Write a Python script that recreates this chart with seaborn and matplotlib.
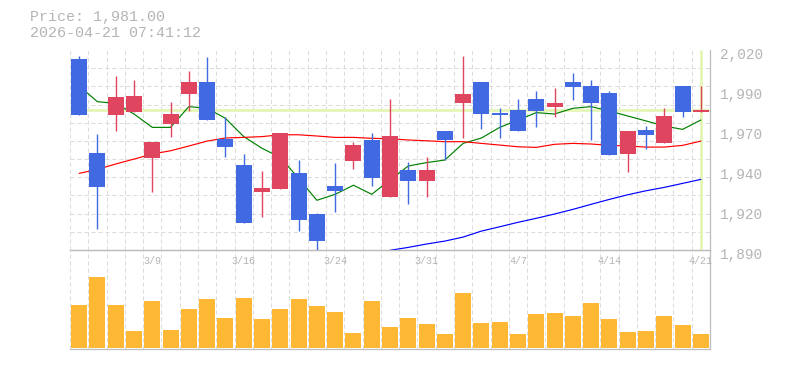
import matplotlib
matplotlib.use("Agg")
import matplotlib.pyplot as plt
from matplotlib.transforms import ScaledTranslation
import seaborn as sns
import numpy as np
import pandas as pd

# ---------------- data ----------------
dates = ["3/3", "3/4", "3/5", "3/6", "3/9", "3/10", "3/11", "3/12", "3/13",
         "3/16", "3/17", "3/18", "3/19", "3/23", "3/24", "3/25", "3/26", "3/27",
         "3/30", "3/31", "4/1", "4/2", "4/3", "4/6", "4/7", "4/8", "4/9", "4/10",
         "4/13", "4/14", "4/15", "4/16", "4/17", "4/20", "4/21"]

opens = [2014.2, 1953.0, 1978.0, 1979.9, 1950.0, 1972.1, 1991.6, 1999.2, 1962.1,
         1945.2, 1927.9, 1929.8, 1940.0, 1913.6, 1931.8, 1948.0, 1961.5, 1924.6,
         1942.0, 1935.0, 1967.3, 1985.7, 1999.2, 1979.2, 1981.0, 1988.1, 1983.0,
         1999.2, 1996.6, 1992.0, 1952.6, 1968.0, 1959.7, 1996.6, 1980.0]
highs = [2016.1, 1965.4, 2003.1, 2000.5, 1960.2, 1986.2, 2006.3, 2015.4, 1976.4,
         1952.4, 1941.3, 1966.0, 1948.5, 1914.3, 1946.5, 1960.4, 1966.0, 1988.1,
         1947.2, 1950.4, 1967.3, 2016.3, 1999.2, 1982.3, 1988.1, 1993.3, 1995.3,
         2005.0, 2000.5, 1993.3, 1967.3, 1970.6, 1982.3, 1996.6, 1996.6]
lows = [1977.9, 1903.6, 1967.6, 1979.9, 1927.9, 1963.6, 1980.5, 1974.7, 1950.6,
        1907.7, 1911.6, 1929.8, 1902.5, 1889.5, 1914.9, 1942.8, 1931.8, 1924.6,
        1920.1, 1924.6, 1948.5, 1962.8, 1968.6, 1962.8, 1967.5, 1969.9, 1976.6,
        1987.5, 1961.5, 1951.9, 1940.9, 1955.8, 1959.7, 1976.6, 1979.9]
closes = [1977.9, 1931.1, 1989.4, 1990.1, 1960.2, 1978.4, 1999.2, 1974.7, 1957.1,
          1907.7, 1930.3, 1966.0, 1909.7, 1896.0, 1928.5, 1958.2, 1937.0, 1964.1,
          1935.0, 1942.0, 1961.7, 1991.6, 1978.6, 1977.7, 1967.5, 1980.3, 1985.5,
          1995.9, 1985.7, 1951.9, 1967.3, 1964.9, 1977.1, 1979.9, 1981.0]

ma_short = [1996.6, 1986.4, 1985.3, 1978.4, 1969.7, 1969.7, 1983.2, 1982.1, 1975.6,
            1963.7, 1956.1, 1950.2, 1936.6, 1922.3, 1926.2, 1932.1, 1926.2, 1935.5,
            1944.6, 1946.8, 1948.5, 1959.3, 1962.8, 1969.7, 1974.5, 1979.3, 1978.4,
            1982.1, 1983.2, 1980.4, 1977.1, 1973.9, 1970.6, 1968.4, 1974.5]
ma_mid = [1939.8, 1942.4, 1945.9, 1949.1, 1952.4, 1954.5, 1957.6, 1960.8, 1962.8,
          1963.2, 1963.7, 1964.9, 1964.9, 1964.1, 1963.2, 1963.2, 1962.6, 1962.3,
          1961.5, 1961.0, 1960.4, 1960.4, 1959.3, 1958.2, 1957.1, 1956.7, 1958.7,
          1959.3, 1958.9, 1958.0, 1957.6, 1956.9, 1956.9, 1958.0, 1960.8]
ma_long = [None] * 17 + [1889.8, 1891.7, 1893.9, 1895.8, 1898.4, 1902.3, 1905.1,
                         1908.0, 1910.6, 1913.4, 1916.4, 1919.7, 1922.9, 1925.9,
                         1928.5, 1930.7, 1933.3, 1935.9]

volumes = [43, 71, 43, 17, 47, 18, 39, 49, 30, 50, 29, 39, 49, 42, 36, 15, 47, 21,
           30, 24, 14, 55, 25, 26, 14, 34, 35, 32, 45, 29, 16, 17, 32, 23, 14]

price_ticks = [2020, 1994, 1968, 1942, 1916, 1890]
price_tick_labels = ["2,020", "1,990", "1,970", "1,940", "1,920", "1,890"]
xlabel_dates = ["3/9", "3/16", "3/24", "3/31", "4/7", "4/14", "4/21"]
last_price = 1981.0
title_lines = ["Price: 1,981.00", "2026-04-21 07:41:12"]

# ---------------- style ----------------
sns.set_style("white")
plt.rcParams["font.family"] = ["Liberation Mono", "DejaVu Sans Mono"]

UP = "#E0455F"
DOWN = "#4169E1"
VOL = "#FFB833"
GRID = "#DCDCDC"
FRAME = "#BDBDBD"
TXT = "#B5B5B5"
HL = "#E3F5B5"

W, H = 785, 370
fig = plt.figure(figsize=(W / 100, H / 100), dpi=100)
ax = fig.add_axes([70 / W, (H - 250) / H, 640 / W, 200 / H])
axv = fig.add_axes([70 / W, (H - 349) / H, 640 / W, 99 / H])

df = pd.DataFrame({"date": dates, "open": opens, "high": highs, "low": lows,
                   "close": closes, "ma5": ma_short, "ma25": ma_mid,
                   "ma75": pd.array(ma_long, dtype="Float64").astype(float),
                   "vol": volumes})
df["i"] = np.arange(len(df))
df["top"] = df[["open", "close"]].max(axis=1)
df["bot"] = df[["open", "close"]].min(axis=1)
cols = [UP if c >= o else DOWN for o, c in zip(df["open"], df["close"])]

# highlight lines
ax.axhline(last_price, color=HL, lw=2.0, zorder=1)
ax.axvline(df["i"].iloc[-1], color=HL, lw=2.0, zorder=1, ymin=0.005, ymax=0.995)

# moving averages
sns.lineplot(data=df, x="i", y="ma5", ax=ax, color="#008000", lw=0.85, zorder=2)
sns.lineplot(data=df, x="i", y="ma25", ax=ax, color="#FF0000", lw=0.85, zorder=2)
sns.lineplot(data=df.dropna(subset=["ma75"]), x="i", y="ma75", ax=ax,
             color="#0000FF", lw=0.85, zorder=2)

# candles
ax.vlines(df["i"], df["low"], df["high"], colors=cols, lw=1.0, zorder=3)
ax.bar(df["i"], df["top"] - df["bot"], bottom=df["bot"], width=0.875,
       color=cols, zorder=4, linewidth=0)

ax.set_xlim(-0.5, len(df) - 0.5)
ax.set_ylim(1890, 2020)
ax.set_xlabel("")
ax.set_ylabel("")

# y ticks on right, rounded labels
ax.yaxis.tick_right()
ax.set_yticks(price_ticks)
ax.set_yticklabels(price_tick_labels)
ax.tick_params(axis="y", length=0, pad=7.2, labelsize=10.4, labelcolor=TXT)
for lbl in ax.get_yticklabels():
    lbl.set_transform(lbl.get_transform() + ScaledTranslation(0, -3 / 100, fig.dpi_scale_trans))
ax.set_yticks(np.linspace(1890, 2020, 12), minor=True)

# x ticks
xt = [dates.index(d) for d in xlabel_dates]
ax.set_xticks(xt)
ax.set_xticklabels(xlabel_dates)
ax.tick_params(axis="x", length=0, pad=4.5, labelsize=7.2, labelcolor=TXT)
ax.set_xticks(np.arange(-0.5, len(df), 1), minor=True)
ax.tick_params(which="minor", length=0)

ax.grid(False, which="major")
ax.grid(True, which="minor", color=GRID, lw=0.75, linestyle=(0, (4, 2.7)))
ax.set_axisbelow(True)
for s in ["left", "top"]:
    ax.spines[s].set_visible(False)
for s in ["right", "bottom"]:
    ax.spines[s].set_color(FRAME)
    ax.spines[s].set_linewidth(0.9)

# volume
sns.barplot(data=df, x="date", y="vol", order=dates, ax=axv, color=VOL,
            saturation=1, width=0.875, linewidth=0, zorder=3)
axv.set_xlim(-0.5, len(df) - 0.5)
axv.set_ylim(-1.3, 97.7)
axv.set_xlabel("")
axv.set_ylabel("")
axv.set_xticks(np.arange(-0.5, len(df), 1), minor=True)
axv.set_xticks([])
axv.set_yticks([])
axv.tick_params(which="both", length=0, labelbottom=False, labelleft=False)
axv.grid(False, which="major")
axv.grid(True, which="minor", axis="x", color=GRID, lw=0.75, linestyle=(0, (4, 2.7)))
axv.set_axisbelow(True)
axv.spines["left"].set_visible(False)
for s in ["right", "bottom", "top"]:
    axv.spines[s].set_color(FRAME)
    axv.spines[s].set_linewidth(0.9)

ax.set_zorder(2)
ax.patch.set_alpha(0)

fig.text(30 / W, 1 - 17 / H, title_lines[0], color=TXT, fontsize=10.8, va="center", ha="left")
fig.text(30 / W, 1 - 33 / H, title_lines[1], color=TXT, fontsize=10.8, va="center", ha="left")

fig.savefig("out.png", dpi=100)
